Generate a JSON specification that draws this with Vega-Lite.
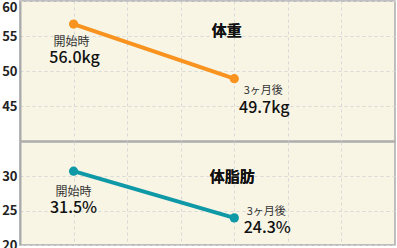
{
  "$schema": "https://vega.github.io/schema/vega-lite/v6.json",
  "autosize": {"type": "pad"},
  "padding": 0,
  "background": "white",
  "spacing": -1.5,
  "config": {
    "font": "Noto Sans CJK JP",
    "view": {"fill": "#f8f5e5", "stroke": "#aaaaaa", "strokeWidth": 1.5},
    "axisY": {"title": null, "ticks": false, "labelPadding": 3, "labelFontSize": 13, "labelFontWeight": "bold", "labelColor": "#222222", "domainColor": "#aaaaaa", "domainWidth": 2, "grid": true, "gridDash": [3, 3], "gridColor": "#d8d8d8"},
    "axisX": {"title": null, "labels": false, "ticks": false, "domain": false, "grid": true, "gridDash": [3, 3], "gridColor": "#d8d8d8", "minExtent": 0, "maxExtent": 0, "labelPadding": 0, "tickSize": 0}
  },
  "datasets": {
    "weight": [
      {"t": 1, "v": 56.7, "lab": "開始時", "val": "56.0kg"},
      {"t": 4, "v": 48.9, "lab": "3ヶ月後", "val": "49.7kg"}
    ],
    "fat": [
      {"t": 1, "v": 30.75, "lab": "開始時", "val": "31.5%"},
      {"t": 4, "v": 23.95, "lab": "3ヶ月後", "val": "24.3%"}
    ]
  },
  "vconcat": [
    {
      "width": 375,
      "height": 140,
      "data": {"name": "weight"},
      "encoding": {
        "x": {"field": "t", "type": "quantitative", "scale": {"domain": [0, 7]}, "axis": {"values": [1, 2, 3, 4, 5, 6]}},
        "y": {"field": "v", "type": "quantitative", "scale": {"domain": [40, 60]}, "axis": {"values": [45, 50, 55, 60], "labelFlush": true}}
      },
      "layer": [
        {"mark": {"type": "line", "color": "#f7931e", "strokeWidth": 4}},
        {"mark": {"type": "point", "filled": true, "size": 85, "color": "#f7931e", "opacity": 1}},
        {"transform": [{"filter": "datum.t == 1"}], "mark": {"type": "text", "fontSize": 12, "dy": 18, "dx": -2, "color": "#333333"}, "encoding": {"text": {"field": "lab"}}},
        {"transform": [{"filter": "datum.t == 1"}], "mark": {"type": "text", "fontSize": 16, "fontWeight": 500, "dy": 34, "dx": 1, "color": "#111111"}, "encoding": {"text": {"field": "val"}}},
        {"transform": [{"filter": "datum.t == 4"}], "mark": {"type": "text", "fontSize": 11, "dy": 12, "dx": 29, "color": "#333333"}, "encoding": {"text": {"field": "lab"}}},
        {"transform": [{"filter": "datum.t == 4"}], "mark": {"type": "text", "fontSize": 16, "fontWeight": 500, "dy": 29, "dx": 30, "color": "#111111"}, "encoding": {"text": {"field": "val"}}},
        {"mark": {"type": "text", "fontSize": 15, "fontWeight": "bold", "color": "#111111"}, "encoding": {"x": {"datum": 3.86}, "y": {"datum": 55.65}, "text": {"datum": "体重"}}}
      ]
    },
    {
      "width": 375,
      "height": 103,
      "data": {"name": "fat"},
      "encoding": {
        "x": {"field": "t", "type": "quantitative", "scale": {"domain": [0, 7]}, "axis": {"values": [1, 2, 3, 4, 5, 6]}},
        "y": {"field": "v", "type": "quantitative", "scale": {"domain": [20, 35]}, "axis": {"values": [20, 25, 30]}}
      },
      "layer": [
        {"mark": {"type": "line", "color": "#0f98a6", "strokeWidth": 4}},
        {"mark": {"type": "point", "filled": true, "size": 85, "color": "#0f98a6", "opacity": 1}},
        {"transform": [{"filter": "datum.t == 1"}], "mark": {"type": "text", "fontSize": 12, "dy": 21, "dx": 0, "color": "#333333"}, "encoding": {"text": {"field": "lab"}}},
        {"transform": [{"filter": "datum.t == 1"}], "mark": {"type": "text", "fontSize": 16, "fontWeight": 500, "dy": 37, "dx": 0, "color": "#111111"}, "encoding": {"text": {"field": "val"}}},
        {"transform": [{"filter": "datum.t == 4"}], "mark": {"type": "text", "fontSize": 11, "dy": -6, "dx": 32, "color": "#333333"}, "encoding": {"text": {"field": "lab"}}},
        {"transform": [{"filter": "datum.t == 4"}], "mark": {"type": "text", "fontSize": 16, "fontWeight": 500, "dy": 10, "dx": 33, "color": "#111111"}, "encoding": {"text": {"field": "val"}}},
        {"mark": {"type": "text", "fontSize": 15, "fontWeight": "bold", "color": "#111111"}, "encoding": {"x": {"datum": 3.96}, "y": {"datum": 29.95}, "text": {"datum": "体脂肪"}}}
      ]
    }
  ]
}
